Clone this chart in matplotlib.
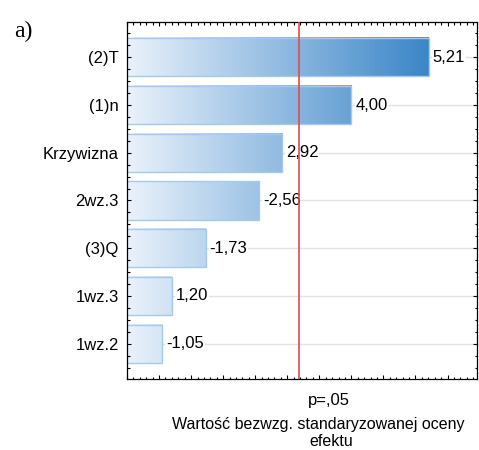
import numpy as np
import matplotlib
matplotlib.use("Agg")
import matplotlib.pyplot as plt
from matplotlib.colors import LinearSegmentedColormap, Normalize
from matplotlib.ticker import MultipleLocator, NullFormatter

# ---- data ----
labels = ["(2)T", "(1)n", "Krzywizna", "2wz.3", "(3)Q", "1wz.3", "1wz.2"]
effects = [5.21, 4.00, 2.92, -2.56, -1.73, 1.20, -1.05]
value_texts = ["5,21", "4,00", "2,92", "-2,56", "-1,73", "1,20", "-1,05"]
p_crit = 3.182
p_label = "p=,05"
xlabel_lines = ["Wartość bezwzg. standaryzowanej oceny", "efektu"]
panel = "a)"

plt.rcParams['font.family'] = ['Liberation Sans', 'DejaVu Sans']

fig = plt.figure(figsize=(4.79, 4.5), dpi=100)
ax = fig.add_axes([127/479, 1-379/450, 350/479, 357/450])

xmin, xmax = 0.5, 5.96
n = len(labels)
ypos = np.arange(n)
absv = np.abs(effects)

cmap = LinearSegmentedColormap.from_list("g", ["#eaf2fb", "#3a86c8"])
norm = Normalize(vmin=xmin, vmax=5.21)

# grid
for y in ypos:
    ax.axhline(y, color="#e3e3e3", lw=1.0, zorder=0)

h = 0.8
for y, v in zip(ypos, absv):
    xs = np.linspace(xmin, v, 256)
    ax.imshow(xs[np.newaxis, :], cmap=cmap, norm=norm, aspect='auto',
              extent=(xmin, v, y + h/2, y - h/2), zorder=1, interpolation='bilinear')
ax.barh(ypos, absv, height=h, left=0, color='none', edgecolor="#a6c9ec",
        linewidth=1.0, zorder=2)

for y, v, t in zip(ypos, absv, value_texts):
    ax.text(v + 0.06, y, t, va='center', ha='left', fontsize=12, zorder=3,
            bbox=dict(facecolor='white', edgecolor='none', pad=0.5))

ax.axvline(p_crit, color="#e5484b", lw=1.2, zorder=4)

ax.set_xlim(xmin, xmax)
ax.set_ylim(n - 1 + 0.74, -0.74)

ax.set_yticks(ypos)
ax.set_yticklabels(labels, fontsize=12)
ax.yaxis.set_minor_locator(MultipleLocator(0.25))
ax.xaxis.set_major_locator(MultipleLocator(0.5))
ax.xaxis.set_minor_locator(MultipleLocator(0.1))
ax.xaxis.set_major_formatter(NullFormatter())
ax.tick_params(which='both', direction='in', top=True, right=True, width=0.8, color='black')
ax.tick_params(which='major', length=3)
ax.tick_params(which='minor', length=1.8)
ax.tick_params(axis='y', which='major', pad=6)

for s in ax.spines.values():
    s.set_linewidth(0.9)
    s.set_color('black')

fig.text(329/479, 1-400/450, p_label, ha='center', va='center', fontsize=12)
fig.text(318/479, 1-425/450, xlabel_lines[0], ha='center', va='center', fontsize=11.5)
fig.text(331/479, 1-441/450, xlabel_lines[1], ha='center', va='center', fontsize=11.5)
fig.text(14/479, 1-31/450, panel, ha='left', va='center', fontsize=17,
         family=['Liberation Serif', 'DejaVu Serif'])

fig.savefig("out.png", dpi=100)
